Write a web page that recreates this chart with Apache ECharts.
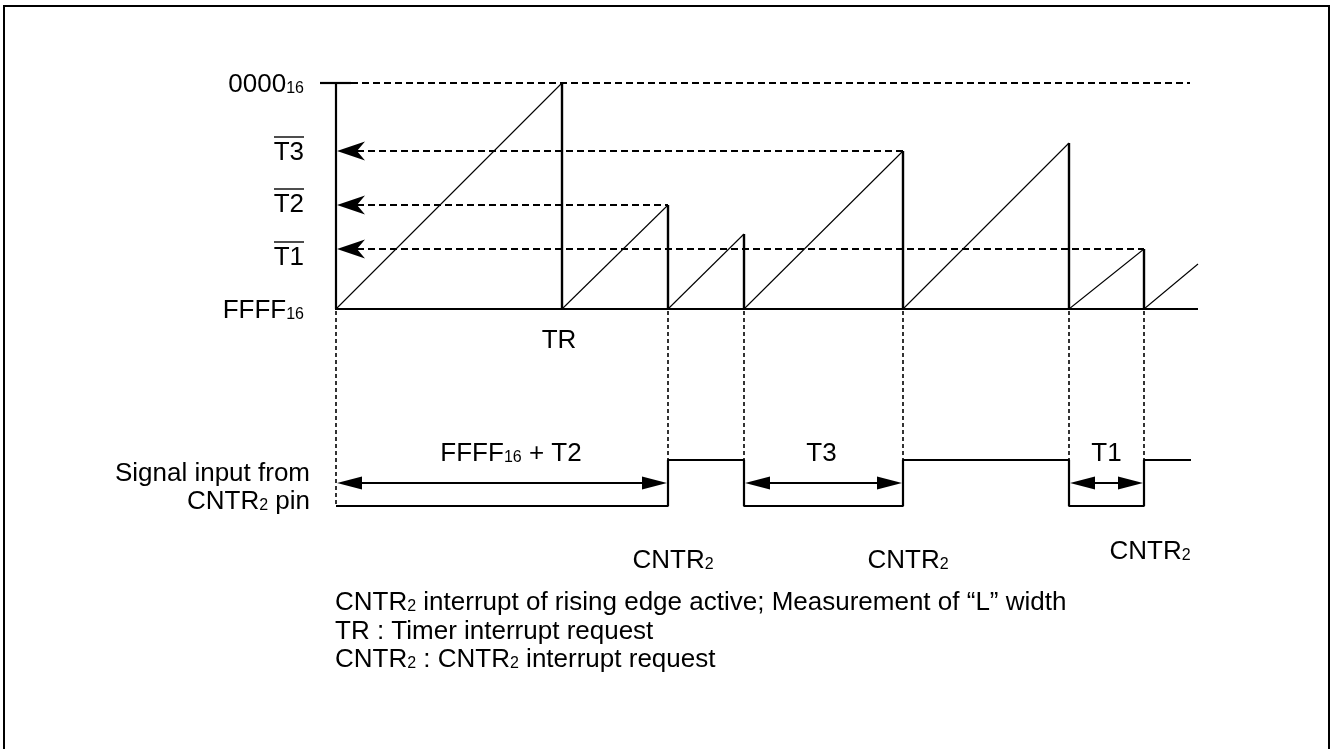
<!DOCTYPE html>
<html><head><meta charset="utf-8">
<script src="https://cdn.jsdelivr.net/npm/echarts@6/dist/echarts.min.js"></script>
<style>
html,body{margin:0;padding:0;background:#fff;overflow:hidden;}
#frame{position:absolute;left:3px;top:5px;width:1327px;height:800px;border:2px solid #000;border-bottom:none;box-sizing:border-box;}
#chart{position:absolute;left:0;top:0;width:1334px;height:749px;}
</style></head><body>
<div id="frame"></div>
<div id="chart"></div>
<script>
// ---------- data (time units on x, counter units on y; FFFF16 = 0) ----------
const counterLevelValues = [0, 60, 104, 158, 226];
const counterLevelNames  = ['FFFF{s|16}', 'T1', 'T2', 'T3', '0000{s|16}'];

const rampStart = [0, 226, 332, 408, 567, 733, 808];
const rampEnd   = [226, 332, 408, 567, 733, 808, 862];
const rampPeak  = [226, 104, 75, 158, 166, 60, 45];
const rampReset = [1, 1, 1, 1, 1, 1, 0];

const overflowLineEnd = 854;
const readbackTime  = [332, 567, 808];
const readbackLevel = [104, 158, 60];

const signalEdges = [0, 332, 408, 567, 733, 808, 855];
const signalState = [0, 1, 0, 1, 0, 1];          // 0 = "L", 1 = "H"
const signalLevelL = -197;
const signalLevelH = -151;

const guideTimes = [0, 332, 408, 567, 733, 808];

const measureFrom  = [0, 408, 733];
const measureTo    = [332, 567, 808];
const measureNames = ['FFFF{s|16} + T2', 'T3', 'T1'];
const measureLevel = -174;

const interruptTimes = [226, 332, 567, 808];
const interruptNames = ['TR', 'CNTR{s|2}', 'CNTR{s|2}', 'CNTR{s|2}'];

const signalCaption = ['Signal input from', 'CNTR{s|2} pin'];
const notes = [
  'CNTR{s|2} interrupt of rising edge active; Measurement of \u201cL\u201d width',
  'TR : Timer interrupt request',
  'CNTR{s|2} : CNTR{s|2} interrupt request'
];

// ---------- styles / label placement (pixels) ----------
const FONT = '"Liberation Sans", Arial, sans-serif';
const FS = 26, SUB = 16, LH = 30;
const levelLabelDy = [2, 9, 0, 2, 2];
const measureLabelDx = [9, -2, 0];
const interruptLabelDx = [-3, 5, 5, 6];
const interruptLabelDy = [32, 55, 55, 46];

const rich = { s: { fontSize: SUB, fontFamily: FONT, fill: '#000', verticalAlign: 'bottom', padding: [0, 0, 3, 0] } };
function txt(text, x, y, align, vAlign) {
  return { type: 'text', x: x, y: y, style: { text: text, fill: '#000', fontSize: FS, fontFamily: FONT,
    lineHeight: LH, align: align || 'center', verticalAlign: vAlign || 'middle', rich: rich } };
}
function seg(a, b, w, dash) {
  return { type: 'line', shape: { x1: a[0], y1: a[1], x2: b[0], y2: b[1] },
    style: { stroke: '#000', lineWidth: w, lineDash: dash || null } };
}
function layer(data, render) {
  return { type: 'custom', coordinateSystem: 'cartesian2d', data: data, renderItem: render,
    silent: true, animation: false, clip: false };
}

// signal polyline built from edges / states
const signalPoints = [];
signalState.forEach(function (s, i) {
  const lv = s ? signalLevelH : signalLevelL;
  signalPoints.push([signalEdges[i], lv], [signalEdges[i + 1], lv]);
});

const chart = echarts.init(document.getElementById('chart'));
chart.setOption({
  animation: false,
  grid: { left: 336, top: 83, width: 862, height: 426 },
  xAxis: { type: 'value', min: 0, max: 862, show: false },
  yAxis: { type: 'value', min: -200, max: 226, show: false },
  series: [
    // axis frame: vertical axis, baseline, tick at top
    layer([[0]], function (p, api) {
      const o = api.coord([0, 0]), t = api.coord([0, counterLevelValues[4]]), e = api.coord([rampEnd[rampEnd.length - 1], 0]);
      return { type: 'group', children: [
        seg(o, t, 2.2), seg([o[0] - 1, o[1]], e, 2.2), seg([t[0] - 16, t[1]], [t[0] + 15, t[1]], 2.2)
      ] };
    }),
    // top overflow dashed line
    layer([[0, overflowLineEnd, counterLevelValues[4]]], function (p, api) {
      const a = api.coord([api.value(0), api.value(2)]), b = api.coord([api.value(1), api.value(2)]);
      return seg([a[0] + 15, a[1]], b, 2, [7, 4]);
    }),
    // sawtooth ramps and resets
    layer(rampStart.map(function (s, i) { return [s, rampEnd[i], rampPeak[i], rampReset[i]]; }), function (p, api) {
      const a = api.coord([api.value(0), 0]), b = api.coord([api.value(1), api.value(2)]);
      const ch = [seg(a, b, 1.1)];
      if (api.value(3)) ch.push(seg(b, api.coord([api.value(1), 0]), 2.4));
      return { type: 'group', children: ch };
    }),
    // read-back dashed arrows to the axis
    layer(readbackTime.map(function (t, i) { return [t, readbackLevel[i]]; }), function (p, api) {
      const a = api.coord([api.value(0), api.value(1)]), o = api.coord([0, api.value(1)]);
      const x0 = o[0] + 1, y = o[1];
      return { type: 'group', children: [
        seg([x0 + 20, y], a, 2, [7, 4]),
        { type: 'polygon', shape: { points: [[x0, y], [x0 + 28, y - 9.5], [x0 + 20, y], [x0 + 28, y + 9.5]] }, style: { fill: '#000' } }
      ] };
    }),
    // dotted guides down to the signal
    layer(guideTimes.map(function (t, i) { return [t, i === 0 ? signalLevelL : signalLevelH]; }), function (p, api) {
      const a = api.coord([api.value(0), 0]), b = api.coord([api.value(0), api.value(1)]);
      return seg([a[0], a[1] + 2], b, 1.6, [4, 3]);
    }),
    // CNTR2 input signal
    { type: 'line', data: signalPoints, showSymbol: false, silent: true, animation: false,
      lineStyle: { color: '#000', width: 2.2 } },
    // width measurements
    layer(measureFrom.map(function (f, i) { return [f, measureTo[i], measureLevel]; }), function (p, api) {
      const a = api.coord([api.value(0), api.value(2)]), b = api.coord([api.value(1), api.value(2)]);
      const y = a[1], L = 26, H = 6.5;
      return { type: 'group', children: [
        seg([a[0] + L - 2, y], [b[0] - L + 2, y], 2),
        { type: 'polygon', shape: { points: [[a[0] + 1, y], [a[0] + L, y - H], [a[0] + L, y + H]] }, style: { fill: '#000' } },
        { type: 'polygon', shape: { points: [[b[0] - 1, y], [b[0] - L, y - H], [b[0] - L, y + H]] }, style: { fill: '#000' } },
        txt(measureNames[p.dataIndex], (a[0] + b[0]) / 2 + measureLabelDx[p.dataIndex], y - 29)
      ] };
    }),
    // interrupt request labels
    layer(interruptTimes.map(function (t) { return [t]; }), function (p, api) {
      const i = p.dataIndex;
      const a = api.coord([api.value(0), i === 0 ? 0 : signalLevelL]);
      return txt(interruptNames[i], a[0] + interruptLabelDx[i], a[1] + interruptLabelDy[i]);
    }),
    // counter level labels
    layer(counterLevelValues.map(function (v) { return [v]; }), function (p, api) {
      const i = p.dataIndex;
      const a = api.coord([0, api.value(0)]);
      const name = counterLevelNames[i];
      const x = a[0] - 32, y = a[1] + levelLabelDy[i];
      const ch = [txt(name, x, y, 'right')];
      if (name.charAt(0) === 'T') ch.push(seg([x - 30, y - 16], [x, y - 16], 1.4));
      return { type: 'group', children: ch };
    }),
    // caption of the signal and notes
    layer([[0]], function (p, api) {
      const a = api.coord([0, signalLevelL]);
      const ch = [
        txt(signalCaption[0], a[0] - 26, a[1] - 32, 'right'),
        txt(signalCaption[1], a[0] - 26, a[1] - 4, 'right')
      ];
      notes.forEach(function (n, i) { ch.push(txt(n, a[0] - 1, a[1] + 97 + i * 28.5, 'left')); });
      return { type: 'group', children: ch };
    })
  ]
});
</script>
</body></html>
